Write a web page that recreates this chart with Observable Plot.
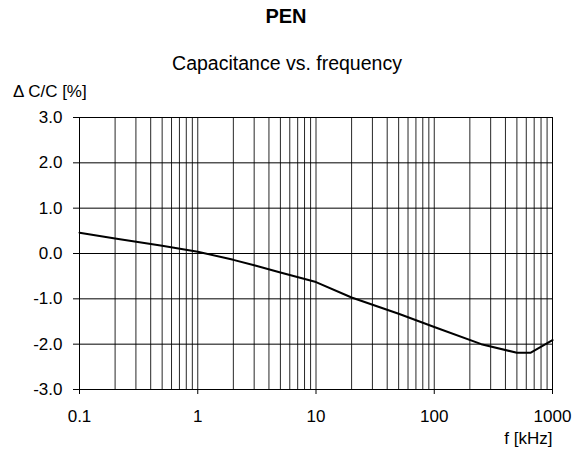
<!DOCTYPE html>
<html>
<head>
<meta charset="utf-8">
<script src="https://cdn.jsdelivr.net/npm/d3@7"></script>
<script src="https://cdn.jsdelivr.net/npm/@observablehq/plot@0.6"></script>
<style>
  html, body { margin: 0; padding: 0; background: #fff; }
  body { width: 572px; height: 459px; overflow: hidden; font-family: "Liberation Sans", Arial, sans-serif; color: #000; }
  #header { position: relative; width: 572px; height: 100px; }
  #title { position: absolute; left: 0; width: 572px; top: 5px; text-align: center; font-weight: bold; font-size: 20px; }
  #subtitle { position: absolute; left: 0; width: 574px; top: 52px; text-align: center; font-size: 19.5px; }
  #ylabel { position: absolute; left: 13px; top: 82px; font-size: 17px; }
  #chart svg { display: block; }
</style>
</head>
<body>
<div id="header">
  <div id="title">PEN</div>
  <div id="subtitle">Capacitance vs. frequency</div>
  <div id="ylabel">Δ C/C [%]</div>
</div>
<div id="chart"></div>
<script>
// Data
const frequency = [0.1, 0.2, 0.5, 1, 2, 3, 5, 10, 20, 50, 100, 250, 500, 650, 1000]; // kHz
const deltaC    = [0.46, 0.33, 0.17, 0.04, -0.14, -0.26, -0.42, -0.63, -0.97, -1.33, -1.62, -2.0, -2.19, -2.19, -1.91]; // %
const xTicks = [0.1, 1, 10, 100, 1000];
const xTickLabels = ["0.1", "1", "10", "100", "1000"];
const yTicks = [-3, -2, -1, 0, 1, 2, 3];
const yTickLabels = ["-3.0", "-2.0", "-1.0", "0.0", "1.0", "2.0", "3.0"];
const xLabel = "f [kHz]";

const data = frequency.map((f, i) => ({f, dc: deltaC[i]}));
const xGrid = [];
for (const d of [0.1, 1, 10, 100]) for (let k = 1; k <= 9; k++) xGrid.push(+(d * k).toPrecision(3));
xGrid.push(1000);

const chart = Plot.plot({
  width: 572,
  height: 359,
  marginTop: 17,
  marginBottom: 70,
  marginLeft: 79,
  marginRight: 20,
  style: {fontFamily: "Liberation Sans, Arial, sans-serif", fontSize: "17px", color: "#000", background: "#fff"},
  x: {type: "log", domain: [0.1, 1000]},
  y: {domain: [-3, 3]},
  marks: [
    Plot.ruleX(xGrid, {stroke: "#000", strokeWidth: 1, strokeOpacity: 0.85}),
    Plot.ruleY(yTicks, {stroke: "#000", strokeWidth: 1}),
    Plot.frame({stroke: "#000", strokeWidth: 1}),
    Plot.axisX({ticks: xTicks, tickFormat: d => xTickLabels[xTicks.indexOf(d)], tickSize: 5, tickPadding: 15, label: null, fontSize: 17}),
    Plot.axisY({ticks: yTicks, tickFormat: d => yTickLabels[yTicks.indexOf(d)], tickSize: 6, tickPadding: 11, label: null, fontSize: 17}),
    Plot.line(data, {x: "f", y: "dc", stroke: "#000", strokeWidth: 2}),
    Plot.text([xLabel], {frameAnchor: "bottom-right", dy: 54, dx: 0, textAnchor: "end", fontSize: 17, fill: "#000"})
  ]
});
document.getElementById("chart").appendChild(chart);
</script>
</body>
</html>
